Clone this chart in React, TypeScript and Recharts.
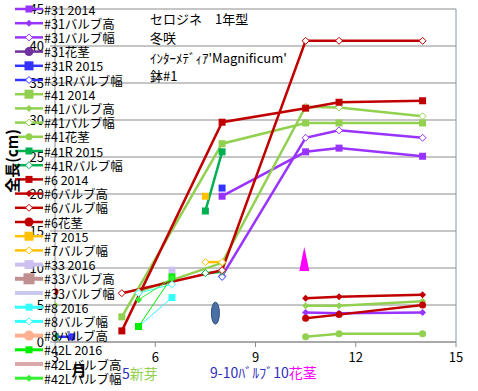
import React from 'react';
import { LineChart, Line, XAxis, YAxis, CartesianGrid, ReferenceLine, ReferenceDot } from 'recharts';

const FONT = '"Noto Sans CJK JP", "Noto Sans", sans-serif';

// month (x) and length in cm (y); null leaves a gap in the line
const xTicks = [3, 6, 9, 12, 15];
const yTicks = [0, 5, 10, 15, 20, 25, 30, 35, 40, 45];

const x31 = [8, 10.5, 11.5, 14];
const y31_2014 = [19.7, 25.7, 26.2, 25.1];
const y31BulbW = [8.9, 27.6, 28.6, 27.6];
const xLate = [10.5, 11.5, 14];
const y31BulbH = [4.0, 3.9, 4.0];
const x31R = [3, 3.5, 5, 8];
const y31R_2015 = [0.7, 0.7, null, 20.8];
const x31RBulbW = [8];
const y31RBulbW = [8.8];

const x41 = [5, 8, 10.5, 11.5, 14];
const y41_2014 = [3.4, 26.8, 29.6, 29.6, 29.6];
const x41BulbH = [3, 5, 10.5, 11.5, 14];
const y41BulbH = [5.0, null, 4.9, 4.9, 5.5];
const x41BulbW = [5.5, 8, 10.5, 11.5, 14];
const y41BulbW = [6.8, 10.7, 31.8, 31.7, 30.5];
const y41Stem = [0.7, 1.1, 1.1];
const x41R = [3, 5, 7.5, 8];
const y41R_2015 = [0.7, null, 17.7, 25.7];
const x41RBulbW = [7.5, 8];
const y41RBulbW = [9.3, 9.5];

const x6 = [5, 8, 10.5, 11.5, 14];
const y6_2014 = [1.5, 29.7, 31.6, 32.4, 32.6];
const y6BulbW = [6.6, 9.7, 40.7, 40.7, 40.7];
const y6BulbH = [5.9, 6.1, 6.4];
const x6Stem = [3, 5, 10.5, 11.5, 14];
const y6Stem = [6.8, null, 3.2, 3.7, 5.0];

const x7 = [7.5];
const y7_2015 = [19.7];
const x7BulbW = [7.5, 8];
const y7BulbW = [10.8, 10.8];

const x33 = [6.5];
const y33_2016 = [9.7];

const x8 = [5.5, 6.5];
const y8_2016 = [2.1, 6.0];
const y8BulbW = [6.6, 7.8];

const x42L = [5.5, 6.5];
const y42L_2016 = [2.1, 8.8];
const y42LBulbW = [5.7, 8.6];

// hand-drawn notes on the plot
const budNote = { x: 7.8, y: 3.9 };
const stemNote = { x: 10.46, y: 11.2 };

type Shape = 'square' | 'diamond' | 'open' | 'circle' | 'none';
type Series = {
  name: string;
  color: string;
  shape: Shape;
  xs: number[];
  ys: (number | null)[];
  width: number;
  legendWidth?: number;
  legendSize?: number;
};

const series: Series[] = [
  { name: '#31 2014', color: '#9933FF', shape: 'square', xs: x31, ys: y31_2014, width: 2.5 },
  { name: '#31バルブ高', color: '#9933FF', shape: 'diamond', xs: xLate, ys: y31BulbH, width: 2.5 },
  { name: '#31バルブ幅', color: '#9933FF', shape: 'open', xs: x31, ys: y31BulbW, width: 2.5 },
  { name: '#31花茎', color: '#7030A0', shape: 'circle', xs: [], ys: [], width: 2.5, legendSize: 9 },
  { name: '#31R 2015', color: '#3333FF', shape: 'square', xs: x31R, ys: y31R_2015, width: 2.5, legendSize: 9 },
  { name: '#31Rバルブ幅', color: '#3333FF', shape: 'open', xs: x31RBulbW, ys: y31RBulbW, width: 2.5 },
  { name: '#41 2014', color: '#92D050', shape: 'square', xs: x41, ys: y41_2014, width: 2.5, legendSize: 9 },
  { name: '#41バルブ高', color: '#92D050', shape: 'diamond', xs: x41BulbH, ys: y41BulbH, width: 2.5 },
  { name: '#41バルブ幅', color: '#92D050', shape: 'open', xs: x41BulbW, ys: y41BulbW, width: 2.5 },
  { name: '#41花茎', color: '#92D050', shape: 'circle', xs: xLate, ys: y41Stem, width: 2.5 },
  { name: '#41R 2015', color: '#00B050', shape: 'square', xs: x41R, ys: y41R_2015, width: 2.5 },
  { name: '#41Rバルブ幅', color: '#00B050', shape: 'open', xs: x41RBulbW, ys: y41RBulbW, width: 2.5 },
  { name: '#6 2014', color: '#C00000', shape: 'square', xs: x6, ys: y6_2014, width: 2.5 },
  { name: '#6バルブ高', color: '#C00000', shape: 'diamond', xs: xLate, ys: y6BulbH, width: 2.5 },
  { name: '#6バルブ幅', color: '#C00000', shape: 'open', xs: x6, ys: y6BulbW, width: 2.5 },
  { name: '#6花茎', color: '#C00000', shape: 'circle', xs: x6Stem, ys: y6Stem, width: 2.5, legendSize: 9 },
  { name: '#7 2015', color: '#FFC000', shape: 'square', xs: x7, ys: y7_2015, width: 2.5, legendSize: 9 },
  { name: '#7バルブ幅', color: '#FFC000', shape: 'open', xs: x7BulbW, ys: y7BulbW, width: 2.5 },
  { name: '#33 2016', color: '#CCC0F0', shape: 'square', xs: x33, ys: y33_2016, width: 2.5, legendWidth: 4, legendSize: 9 },
  { name: '#33バルブ高', color: '#C09090', shape: 'square', xs: [], ys: [], width: 2.5, legendWidth: 4, legendSize: 11 },
  { name: '#33バルブ幅', color: '#C8C8F0', shape: 'none', xs: [], ys: [], width: 2.5, legendWidth: 4 },
  { name: '#8 2016', color: '#33FFFF', shape: 'square', xs: x8, ys: y8_2016, width: 1, legendWidth: 3 },
  { name: '#8バルブ幅', color: '#33FFFF', shape: 'open', xs: x8, ys: y8BulbW, width: 1, legendWidth: 3 },
  { name: '#8バルブ高', color: '#FFB090', shape: 'circle', xs: [], ys: [], width: 2.5, legendWidth: 4, legendSize: 10 },
  { name: '#42L 2016', color: '#00EE00', shape: 'square', xs: x42L, ys: y42L_2016, width: 1, legendWidth: 3 },
  { name: '#42Lバルブ高', color: '#D9A9A9', shape: 'none', xs: [], ys: [], width: 2.5, legendWidth: 4 },
  { name: '#42Lバルブ幅', color: '#33EE33', shape: 'diamond', xs: x42L, ys: y42LBulbW, width: 1, legendWidth: 3 },
];

function Marker({ cx, cy, shape, color, size = 7 }: { cx: number; cy: number; shape: Shape; color: string; size?: number }) {
  const h = size / 2;
  if (shape === 'square') return <rect x={cx - h} y={cy - h} width={size} height={size} fill={color} />;
  if (shape === 'circle') return <circle cx={cx} cy={cy} r={h} fill={color} />;
  if (shape === 'diamond' || shape === 'open') {
    const pts = `${cx},${cy - h} ${cx + h},${cy} ${cx},${cy + h} ${cx - h},${cy}`;
    return shape === 'open'
      ? <polygon points={pts} fill="#fff" stroke={color} strokeWidth={1} />
      : <polygon points={pts} fill={color} />;
  }
  return null;
}

const dotFor = (s: Series) => (p: any) => {
  const key = `${s.name}-${p.index}`;
  if (p.cx == null || p.cy == null || p.payload?.y == null) return <g key={key} />;
  return <g key={key}><Marker cx={p.cx} cy={p.cy} shape={s.shape} color={s.color} /></g>;
};

const tickStyle = { fill: '#000', fontSize: 13, fontFamily: FONT };

export default function App() {
  return (
    <div style={{ position: 'absolute', left: 0, top: 0, width: 478, height: 391, background: '#fff', fontFamily: FONT }}>
      <LineChart width={478} height={391} margin={{ top: 9, right: 22, bottom: 19, left: 0 }}>
        <CartesianGrid vertical={false} stroke="#8c8c8c" />
        <XAxis
          type="number"
          dataKey="x"
          domain={[3, 15]}
          ticks={xTicks}
          height={30}
          tickSize={5}
          tickMargin={6}
          stroke="#8c8c8c"
          tick={tickStyle}
          allowDataOverflow
        />
        <YAxis
          type="number"
          domain={[0, 45]}
          ticks={yTicks}
          width={55}
          tickSize={5}
          tickMargin={6}
          stroke="#8c8c8c"
          tick={tickStyle}
        />
        <ReferenceLine x={15} stroke="#8497B0" />
        {series.map((s) => (
          <Line
            key={s.name}
            name={s.name}
            data={s.xs.map((x, i) => ({ x, y: s.ys[i] }))}
            dataKey="y"
            type="linear"
            stroke={s.color}
            strokeWidth={s.width}
            dot={dotFor(s)}
            activeDot={false}
            connectNulls={false}
            isAnimationActive={false}
          />
        ))}
        <ReferenceDot
          x={budNote.x}
          y={budNote.y}
          r={1}
          shape={(p: any) => <ellipse cx={p.cx} cy={p.cy} rx={4} ry={11} fill="#4A6FA5" stroke="#2F4F7F" />}
        />
        <ReferenceDot
          x={stemNote.x}
          y={stemNote.y}
          r={1}
          shape={(p: any) => (
            <polygon points={`${p.cx},${p.cy - 12} ${p.cx + 5},${p.cy + 12} ${p.cx - 5},${p.cy + 12}`} fill="#FF00FF" />
          )}
        />
      </LineChart>
      <svg width={478} height={391} style={{ position: 'absolute', left: 0, top: 0, pointerEvents: 'none' }}>
        {series.map((s, i) => {
          const y = 9 + i * 14.2;
          return (
            <g key={s.name}>
              <line x1={15} x2={43} y1={y} y2={y} stroke={s.color} strokeWidth={s.legendWidth ?? s.width} />
              <Marker cx={29} cy={y} shape={s.shape} color={s.color} size={s.legendSize ?? 7} />
              <text x={44} y={y} dominantBaseline="central" fontSize={12.5} fontFamily={FONT} fill="#000">{s.name}</text>
            </g>
          );
        })}
        <g fontFamily={FONT} fontSize={13} fill="#000">
          <text x={150} y={18} dominantBaseline="central">セロジネ　1年型</text>
          <text x={150} y={37} dominantBaseline="central">冬咲</text>
          <text x={150} y={57} dominantBaseline="central">ｲﾝﾀｰﾒﾃﾞｨｱ'Magnificum'</text>
          <text x={150} y={75} dominantBaseline="central">鉢#1</text>
        </g>
        <text x={11} y={161} transform="rotate(-90 11 161)" textAnchor="middle" dominantBaseline="central" fontSize={15} fontWeight="bold" fontFamily={FONT}>全長(cm)</text>
        <text x={79} y={369} textAnchor="middle" dominantBaseline="central" fontSize={15} fontWeight="bold" fontFamily={FONT}>月</text>
        <text x={122} y={373} dominantBaseline="central" fontSize={14} fontFamily={FONT}>
          <tspan fill="#3030C0">5</tspan>
          <tspan fill="#92D050">新芽</tspan>
        </text>
        <text x={210} y={372} dominantBaseline="central" fontSize={14} fontFamily={FONT}>
          <tspan fill="#2E2EB8">9-10ﾊﾞﾙﾌﾞ10</tspan>
          <tspan fill="#FF00FF">花茎</tspan>
        </text>
      </svg>
    </div>
  );
}
